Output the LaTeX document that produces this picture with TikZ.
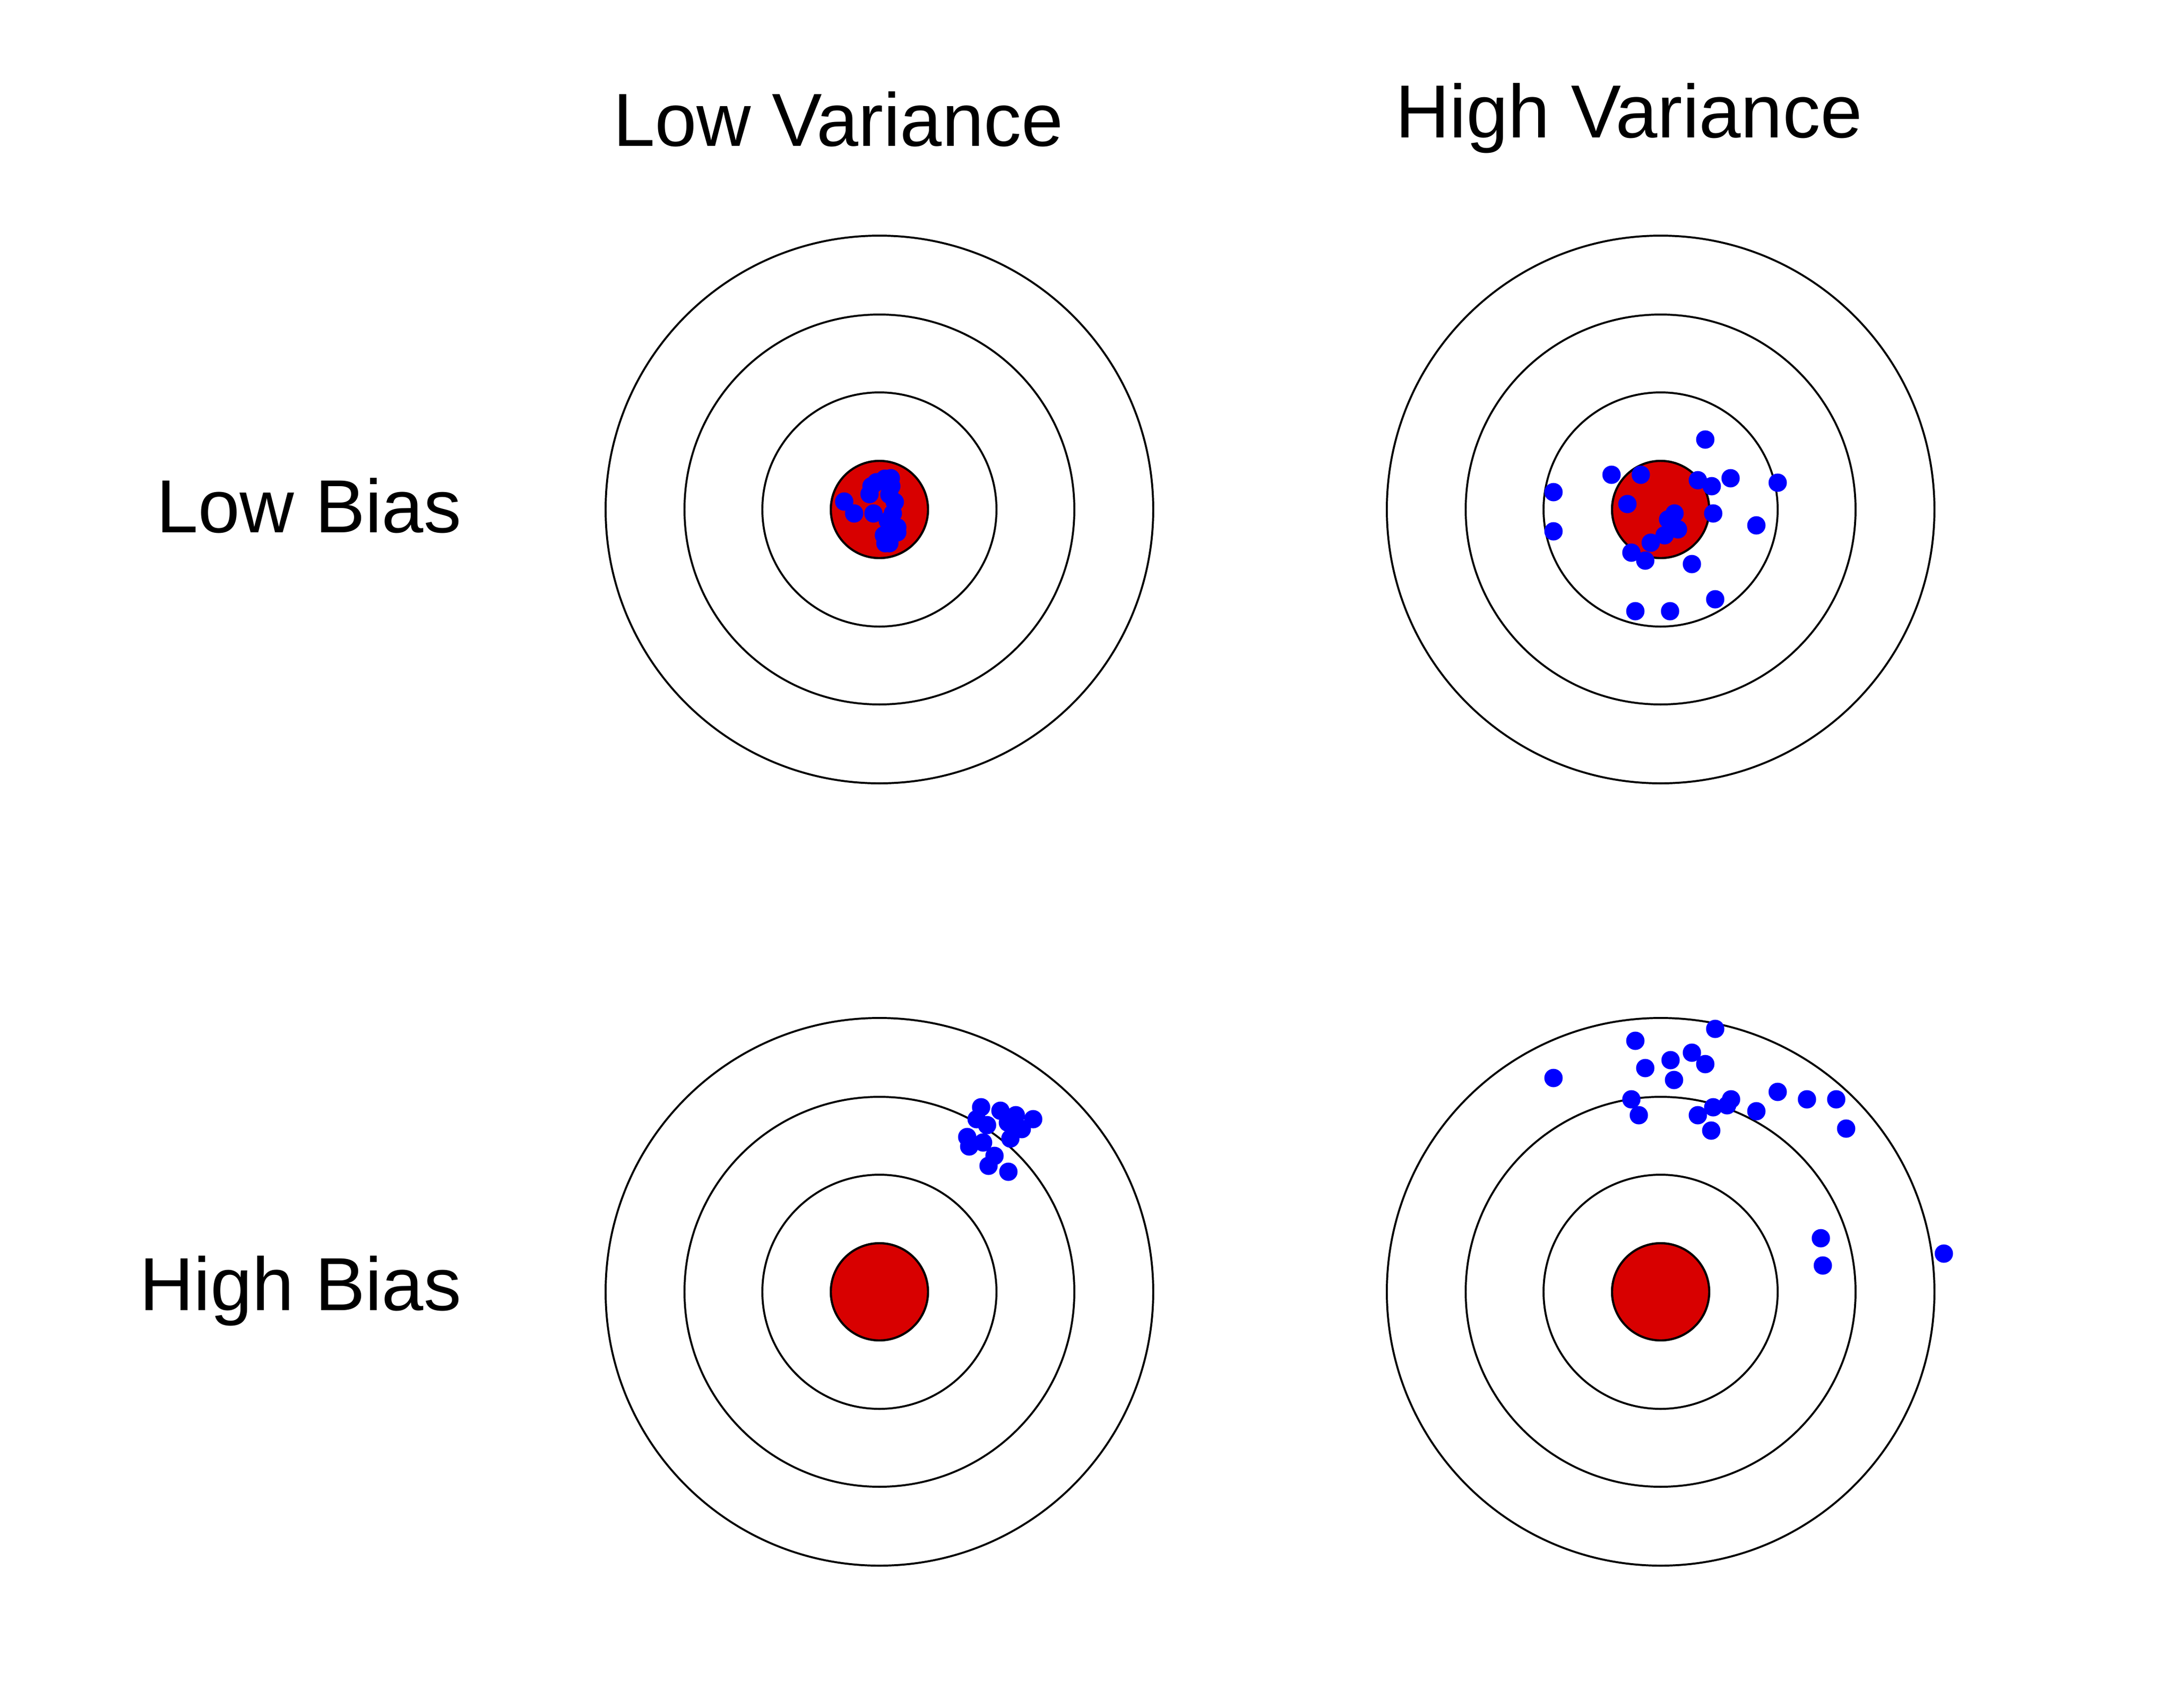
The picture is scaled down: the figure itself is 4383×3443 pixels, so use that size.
\documentclass[tikz,border=0pt]{standalone}
\usepackage{fontspec}
\setmainfont{Liberation Sans}
\usepackage{tikz}
\definecolor{bullred}{HTML}{D80000}
\definecolor{shotblue}{HTML}{0000FF}

\begin{document}
\begin{tikzpicture}[
    x=0.04mm, y=-0.04mm,
    ring/.style={draw=black, line width=0.45pt},
    bull/.style={draw=black, fill=bullred, line width=0.5pt},
    shot/.style={fill=shotblue},
    heading/.style={font=\fontsize{17.25}{20}\selectfont, inner sep=0pt}
]
\useasboundingbox[fill=white] (0,0) rectangle (4383,3443);

% Column and row headings
\node[heading, anchor=base] (lowvar) at (1690,294) {Low Variance};
\node[heading, anchor=base] (highvar) at (3284,277) {High Variance};
\node[heading, anchor=base east] (lowbias) at (932,1073) {Low Bias};
\node[heading, anchor=base east] (highbias) at (932,2641) {High Bias};

% Four targets
\foreach \cx/\cy in {1773/1027, 3348/1027, 1773/2604, 3348/2604} {
    \foreach \r in {552, 393, 236}
        \draw[ring] (\cx,\cy) circle[radius={\r*0.04mm}];
    \draw[bull] (\cx,\cy) circle[radius={98*0.04mm}];
}

% Low bias, low variance
\begin{scope}[shift={(1773,1027)}]
\foreach \dx/\dy in {-71/-16, -51/8, -12/8, -20/-31, -16/-47, -6/-55, 11/-62, 23/-63, 24/-47,
    20/-30, 31/-15, 27/8, 17/23, 36/36, 36/46, 9/52, 12/68, 20/68}
    \fill[shot] (\dx,\dy) circle[radius=0.74mm];
\end{scope}

% Low bias, high variance
\begin{scope}[shift={(3348,1027)}]
\foreach \dx/\dy in {90/-141, -99/-70, -40/-70, -216/-35, -216/44, -67/-11, 75/-59, 103/-47,
    141/-63, 236/-54, 106/8, 193/32, 28/8, 15/20, 35/40, 8/52, -20/67, -59/87, -31/103,
    63/110, 110/181, -51/205, 19/205}
    \fill[shot] (\dx,\dy) circle[radius=0.74mm];
\end{scope}

% High bias, low variance
\begin{scope}[shift={(1773,2604)}]
\foreach \dx/\dy in {205/-372, 196/-348, 177/-312, 181/-293, 209/-301, 232/-274, 220/-254,
    260/-242, 244/-365, 275/-356, 310/-348, 287/-328, 264/-309, 217/-336, 259/-341}
    \fill[shot] (\dx,\dy) circle[radius=0.74mm];
\end{scope}

% High bias, high variance
\begin{scope}[shift={(3348,2604)}]
\foreach \dx/\dy in {110/-530, -51/-506, -216/-431, -31/-451, 20/-467, 63/-482, 90/-459,
    27/-427, -59/-388, -44/-356, 75/-356, 106/-372, 102/-325, 142/-388, 134/-376, 193/-364,
    236/-403, 295/-388, 354/-388, 374/-329, 323/-108, 327/-53, 571/-77}
    \fill[shot] (\dx,\dy) circle[radius=0.74mm];
\end{scope}

\end{tikzpicture}
\end{document}
